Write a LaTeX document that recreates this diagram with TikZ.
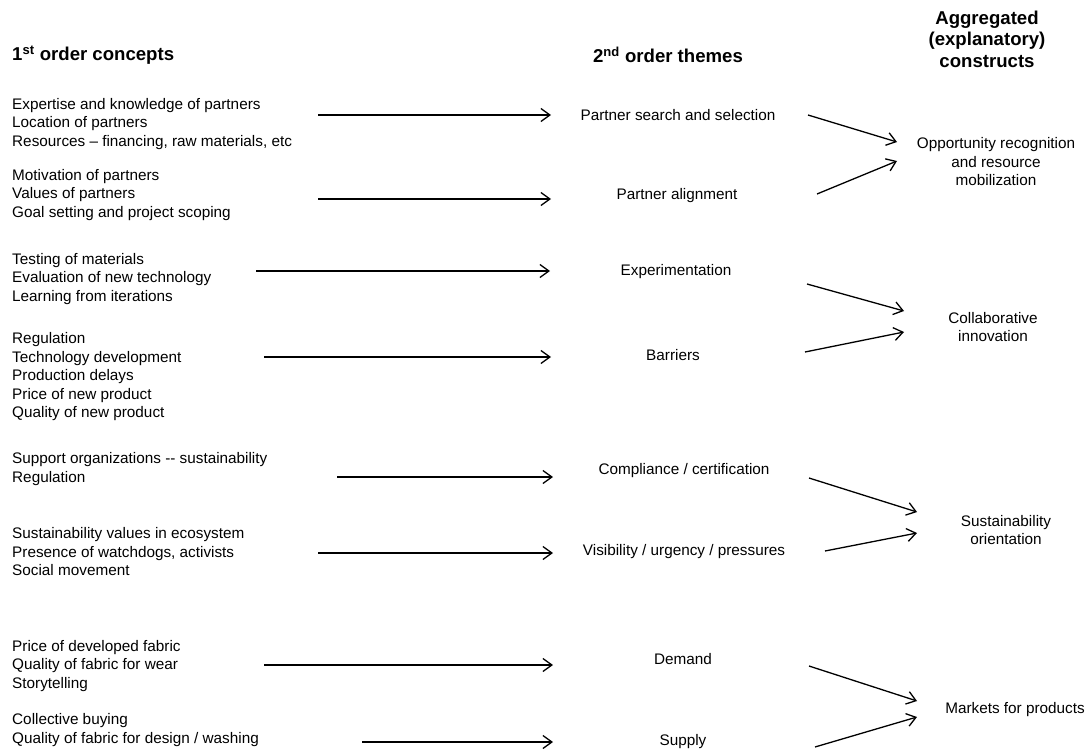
\documentclass[tikz,border=0pt]{standalone}
\usepackage{fontspec}
\setmainfont{Liberation Sans}
\usetikzlibrary{arrows.meta}
\begin{document}
\begin{tikzpicture}[x=1pt,y=-1pt,
  body/.style={inner sep=0pt, font=\fontsize{15.3}{18.5}\selectfont},
  concept/.style={body, anchor=west, align=left},
  theme/.style={body, anchor=center, align=center},
  construct/.style={body, anchor=center, align=center},
  header/.style={inner sep=0pt, font=\fontsize{18.6}{21.5}\selectfont\bfseries, align=center},
  link/.style={line width=1.3pt, -{Straight Barb[length=9pt,width=13pt,line width=1.3pt]}}
]
\useasboundingbox (0,0) rectangle (1092,752);

% headers
\node[header, anchor=west] (h1) at (12,55) {1\textsuperscript{st} order concepts};
\node[header] (h2) at (668,55) {2\textsuperscript{nd} order themes};
\node[header] (h3) at (987,39) {Aggregated\\(explanatory)\\constructs};

% first order concepts
\node[concept] (p1) at (12,124) {Expertise and knowledge of partners\\Location of partners\\Resources -- financing, raw materials, etc};
\node[concept] (p2) at (12,195) {Motivation of partners\\Values of partners\\Goal setting and project scoping};
\node[concept] (p3) at (12,279) {Testing of materials\\Evaluation of new technology\\Learning from iterations};
\node[concept] (p4) at (12,377) {Regulation\\Technology development\\Production delays\\Price of new product\\Quality of new product};
\node[concept] (p5) at (12,469) {Support organizations -{}- sustainability\\Regulation};
\node[concept] (p6) at (12,552) {Sustainability values in ecosystem\\Presence of watchdogs, activists\\Social movement};
\node[concept] (p7) at (12,666) {Price of developed fabric\\Quality of fabric for wear\\Storytelling};
\node[concept] (p8) at (12,730) {Collective buying\\Quality of fabric for design / washing};

% second order themes
\node[theme] (t1) at (678,115) {Partner search and selection};
\node[theme] (t2) at (677,196) {Partner alignment};
\node[theme] (t3) at (676,272) {Experimentation};
\node[theme] (t4) at (673,355) {Barriers};
\node[theme] (t5) at (684,471) {Compliance / certification};
\node[theme] (t6) at (684,552) {Visibility / urgency / pressures};
\node[theme] (t7) at (683,659) {Demand};
\node[theme] (t8) at (683,742) {Supply};

% constructs
\node[construct] (c1) at (996,162) {Opportunity recognition\\and resource\\mobilization};
\node[construct] (c2) at (993,327) {Collaborative\\innovation};
\node[construct] (c3) at (1006,530) {Sustainability\\orientation};
\node[construct] (c4) at (1015,710) {Markets for products};

% arrow end points
\coordinate (a1s) at (318,115); \coordinate (a1e) at (551,115);
\coordinate (a2s) at (318,199); \coordinate (a2e) at (551,199);
\coordinate (a3s) at (256,271); \coordinate (a3e) at (550,271);
\coordinate (a4s) at (264,357); \coordinate (a4e) at (551,357);
\coordinate (a5s) at (337,477); \coordinate (a5e) at (553,477);
\coordinate (a6s) at (318,553); \coordinate (a6e) at (553,553);
\coordinate (a7s) at (264,665); \coordinate (a7e) at (553,665);
\coordinate (a8s) at (362,742); \coordinate (a8e) at (553,742);

\coordinate (b1s) at (808,115); \coordinate (b1e) at (897,142);
\coordinate (b2s) at (817,194); \coordinate (b2e) at (897,161);
\coordinate (b3s) at (807,284); \coordinate (b3e) at (904,311);
\coordinate (b4s) at (805,352); \coordinate (b4e) at (904,332);
\coordinate (b5s) at (809,478); \coordinate (b5e) at (917,512);
\coordinate (b6s) at (825,551); \coordinate (b6e) at (917,533);
\coordinate (b7s) at (809,666); \coordinate (b7e) at (917,701);
\coordinate (b8s) at (815,747); \coordinate (b8e) at (917,717);

\foreach \i in {1,...,8} {
  \draw[link] (a\i s) -- (a\i e);
  \draw[link] (b\i s) -- (b\i e);
}
\end{tikzpicture}
\end{document}
